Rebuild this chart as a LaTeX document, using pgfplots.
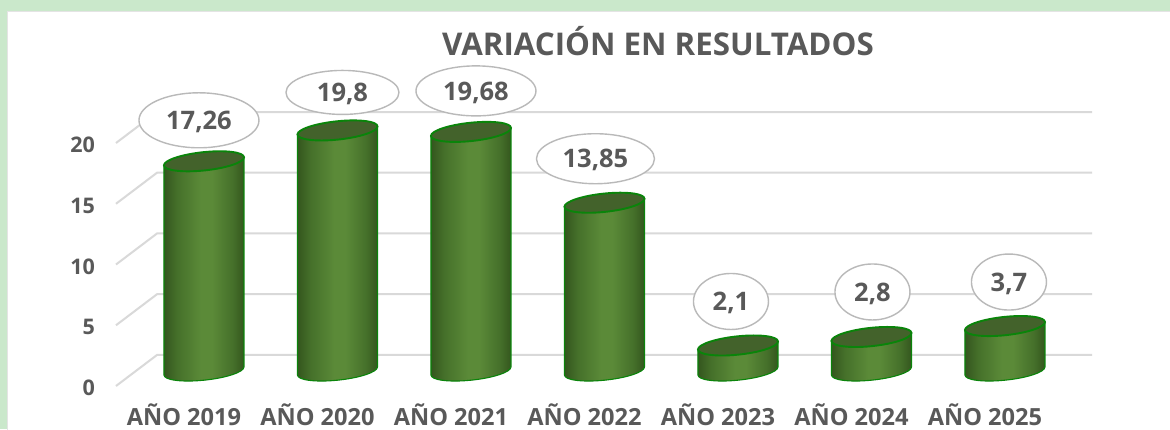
\documentclass[border=0pt]{standalone}
\usepackage{pgfplots}
\usepackage{pgfplotstable}
\usepackage{fontspec}
\setmainfont{Open Sans}
\pgfplotsset{compat=1.18}
\usetikzlibrary{shapes.geometric}
\definecolor{txt}{HTML}{595959}
\definecolor{gridc}{HTML}{D9D9D9}
\definecolor{edgeg}{HTML}{0A840A}
\definecolor{topg}{HTML}{43622B}
\definecolor{bandg}{HTML}{CAE8CB}
\definecolor{shA}{HTML}{34561E}
\definecolor{shB}{HTML}{45702A}
\definecolor{shC}{HTML}{5B8A38}
\pgfdeclarehorizontalshading{cylshade}{100bp}{
 color(0bp)=(shA); color(25bp)=(shA); color(33bp)=(shB); color(48bp)=(shC); color(55bp)=(shC);
 color(68bp)=(shB); color(75bp)=(shA); color(100bp)=(shA)}
\pgfdeclareplotmark{cyl}{%
  \pgfmathsetmacro\barh{\barv*12.15}%
  \begin{pgfscope}
    \pgflowlevelsynccm
    \pgftransformcm{1}{0.1}{0}{1}{\pgfpointorigin}
    \shade[shading=cylshade,draw=edgeg,line width=1.1pt]
      (-40pt,0pt) -- (-40pt,-\barh pt)
      arc[start angle=180,end angle=360,x radius=40pt,y radius=9.2pt]
      -- (40pt,0pt) -- cycle;
    \fill[topg,draw=edgeg,line width=1.9pt] (0pt,0pt) ellipse[x radius=40pt,y radius=9.2pt];
  \end{pgfscope}
}
\begin{document}
\begin{tikzpicture}
\useasboundingbox (0pt,0pt) rectangle (1170pt,429pt);
\fill[bandg] (0pt,0pt) rectangle (1170pt,429pt);
\fill[white,draw=gridc!70,line width=0.6pt] (7pt,-2pt) rectangle (1173pt,418pt);
\begin{axis}[
  at={(116pt,43pt)},anchor=south west,
  width=976pt,height=336pt,scale only axis,
  xmin=-0.659,xmax=6.652,ymin=-1.235,ymax=26.42,
  clip=false,
  axis line style={draw=none},
  major tick length=0pt,
  tick style={draw=none},
  xtick={0,1,2,3,4,5,6},
  xticklabels={AÑO 2019,AÑO 2020,AÑO 2021,AÑO 2022,AÑO 2023,AÑO 2024,AÑO 2025},
  xticklabel style={font=\fontsize{23.6}{26}\selectfont\bfseries,text=txt,xshift=-20pt,anchor=center,yshift=-29pt,inner sep=0pt},
  ytick={0,5,10,15,20},
  /pgf/number format/assume math mode=true,
  yticklabel style={font=\fontsize{21.5}{24}\selectfont\bfseries,text=txt,anchor=east,inner sep=0pt,xshift=-21pt,yshift=-17pt},
  title={VARIACIÓN EN RESULTADOS},
  title style={font=\fontsize{31.3}{34}\selectfont\bfseries,text=txt,at={(axis description cs:0.5553,1.009)},anchor=center,inner sep=0pt},
]
\pgfplotsinvokeforeach{0,5,10,15,20}{
  \addplot[gridc,line width=2pt,forget plot] coordinates {(-0.659,-1.235+#1) (-0.352,1.317+#1) (6.652,1.317+#1)};
}
\addplot[scatter,only marks,mark=cyl,point meta=y,
  visualization depends on={y \as \barv},
  scatter/@pre marker code/.code={},scatter/@post marker code/.code={}]
  table[x=x,y=y] {
x y
0 17.26
1 19.8
2 19.68
3 13.85
4 2.1
5 2.8
6 3.7
};
\addplot[only marks,mark=none,point meta=explicit symbolic,
  visualization depends on={value \thisrow{dx} \as \lblx},
  visualization depends on={value \thisrow{dy} \as \lbly},
  visualization depends on={value \thisrow{wd} \as \lblw},
  visualization depends on={value \thisrow{ht} \as \lblh},
  nodes near coords,
  every node near coord/.style={anchor=center,shape=ellipse,draw=gray!55,fill=white,line width=1.4pt,
    inner sep=0pt,minimum width=\lblw pt,minimum height=\lblh pt,text depth=0pt,
    shift={(\lblx pt,\lbly pt)},text=txt,font=\fontsize{25.5}{28}\selectfont\bfseries}]
  table[x=x,y=y,meta=label] {
x y  label dx dy wd ht
0 17.26 17,26 -5 41 120 55
1 19.8  19,8  5  38 113 44
2 19.68 19,68 5  41 120 50
3 13.85 13,85 -9 44 118 50
4 2.1   2,1   -7 44 75 56
5 2.8   2,8   1  45 75 56
6 3.7   3,7   4  44 75 56
};
\end{axis}
\end{tikzpicture}
\end{document}
